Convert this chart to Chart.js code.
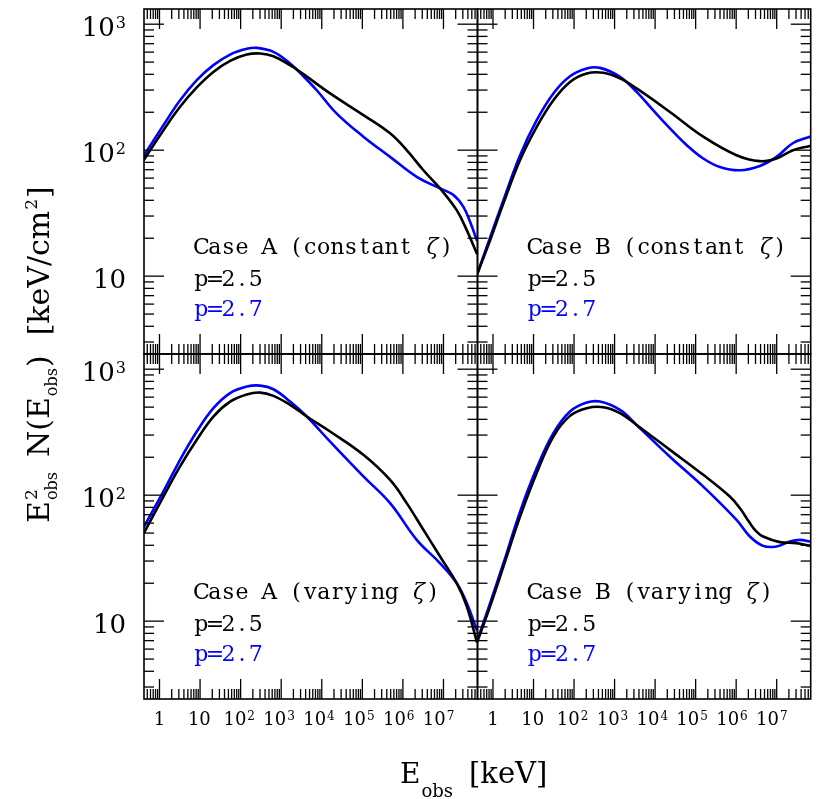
<!DOCTYPE html>
<html>
<head>
<meta charset="utf-8">
<script src="https://cdn.jsdelivr.net/npm/chart.js@4.4.1/dist/chart.umd.min.js"></script>
<style>
  body { margin: 0; background: #fff; }
  #wrap { position: relative; width: 817px; height: 799px; }
  #wrap canvas { position: absolute; left: 0; top: 0; }
</style>
</head>
<body>
<div id="wrap">
  <canvas id="tl" width="817" height="799"></canvas>
  <canvas id="tr" width="817" height="799"></canvas>
  <canvas id="bl" width="817" height="799"></canvas>
  <canvas id="br" width="817" height="799"></canvas>
  <canvas id="titles" width="817" height="799"></canvas>
</div>
<script>
// axis ranges (keV, keV/cm^2)
const X_MIN = 0.415, X_MAX = 6.9e7;
const Y_MIN = 2.41, Y_MAX = 1320;
const X_EXPONENTS = [0, 1, 2, 3, 4, 5, 6, 7];
const Y_EXPONENTS = [1, 2, 3];

// Case A, constant zeta
const eAconst25 = [0.417, 1.25, 3.22, 8.3, 21.3, 55, 142, 302, 643, 1656, 3530, 16030, 1.06e5, 4.83e5, 1.24e6, 3.2e6, 8.25e6, 2.12e7, 3.75e7, 6.6e7];
const fAconst25 = [84.3, 144, 221, 315, 418, 512, 574, 585, 557, 473, 401, 282, 190, 136, 100, 69.3, 49.7, 33.4, 23.2, 15.2];
const eAconst27 = [0.417, 1.25, 3.22, 8.3, 21.3, 55, 142, 250, 643, 1656, 3530, 7520, 23400, 1.06e5, 4.83e5, 2.19e6, 8.25e6, 1.76e7, 3.1e7, 4.53e7, 6.6e7];
const fAconst27 = [91.2, 158, 249, 360, 473, 574, 637, 649, 603, 488, 386, 299, 195, 128, 88.5, 61.4, 49.7, 44, 35.5, 27, 19.3];

// Case B, constant zeta
const eBconst25 = [0.413, 0.849, 1.81, 4.66, 12.0, 30.9, 79.5, 205, 527, 1358, 3500, 23200, 1.54e5, 1.02e6, 3.84e6, 9.87e6, 2.54e7, 6.55e7];
const fBconst25 = [10.5, 19.3, 37.8, 83.4, 153, 249, 348, 406, 411, 371, 309, 201, 128, 91.2, 81.8, 85.9, 100, 108];
const eBconst27 = [0.413, 0.849, 1.81, 4.66, 12.0, 30.9, 79.5, 205, 436, 1358, 3500, 9000, 23200, 59700, 1.54e5, 3.96e5, 1.23e6, 3.84e6, 9.87e6, 2.54e7, 6.55e7];
const fBconst27 = [10.5, 20.3, 40.1, 91.2, 173, 282, 386, 445, 450, 382, 290, 207, 149, 110, 85.9, 73.6, 69.3, 75, 88.5, 114, 128];

// Case A, varying zeta
const eAvary25 = [0.417, 1.25, 3.22, 8.3, 21.3, 55, 142, 302, 643, 1656, 4270, 16030, 1.06e5, 4.83e5, 1.24e6, 3.2e6, 8.25e6, 2.12e7, 3.75e7, 6.6e7];
const fAvary25 = [50.5, 97.5, 169, 275, 421, 553, 631, 652, 614, 521, 421, 320, 209, 132, 86.5, 53.1, 32.6, 20, 13.1, 6.89];
const eAvary27 = [0.417, 1.25, 3.22, 8.3, 21.3, 55, 142, 302, 643, 1656, 4270, 16030, 1.06e5, 4.83e5, 2.19e6, 8.25e6, 2.12e7, 3.75e7, 6.6e7];
const fAvary27 = [56.4, 107, 191, 320, 490, 646, 728, 741, 693, 553, 421, 266, 141, 86.5, 44.2, 28.8, 20, 13.9, 8.53];

// Case B, varying zeta
const eBvary25 = [0.413, 0.849, 1.81, 4.66, 12.0, 30.9, 79.5, 205, 527, 1358, 3500, 23200, 1.54e5, 6.98e5, 1.23e6, 2.18e6, 3.18e6, 4.63e6, 1.19e7, 3.07e7, 6.55e7];
const fBvary25 = [6.89, 13.1, 27.1, 67.6, 150, 292, 426, 490, 499, 448, 361, 229, 145, 97.5, 79, 60, 51.4, 47, 42.4, 41.6, 39.6];
const eBvary27 = [0.413, 0.849, 1.81, 4.66, 12.0, 30.9, 79.5, 205, 436, 1358, 3500, 23200, 1.54e5, 1.02e6, 2.18e6, 4.63e6, 9.87e6, 2.1e7, 3.72e7, 6.55e7];
const fBvary27 = [7.08, 13.9, 28.8, 74.1, 164, 310, 461, 543, 553, 475, 361, 202, 117, 63.7, 47, 39.6, 39.1, 42.9, 44.2, 42.9];

const BLUE = '#0000ff';
const SERIF = '"DejaVu Serif", serif';

const panels = [
  { id: 'tl', box: [144, 9, 477.5, 354], caseLabel: 'Case A (constant ζ)', e25: eAconst25, f25: fAconst25, e27: eAconst27, f27: fAconst27, yLabels: true, xLabels: false },
  { id: 'tr', box: [477.5, 9, 810.7, 354], caseLabel: 'Case B (constant ζ)', e25: eBconst25, f25: fBconst25, e27: eBconst27, f27: fBconst27, yLabels: false, xLabels: false },
  { id: 'bl', box: [144, 354, 477.5, 699], caseLabel: 'Case A (varying ζ)', e25: eAvary25, f25: fAvary25, e27: eAvary27, f27: fAvary27, yLabels: true, xLabels: true },
  { id: 'br', box: [477.5, 354, 810.7, 699], caseLabel: 'Case B (varying ζ)', e25: eBvary25, f25: fBvary25, e27: eBvary27, f27: fBvary27, yLabels: false, xLabels: true },
];

function toPoints(xs, ys) {
  return xs.map((x, i) => ({ x, y: ys[i] }));
}

function line(ctx, x1, y1, x2, y2) {
  ctx.beginPath();
  ctx.moveTo(x1, y1);
  ctx.lineTo(x2, y2);
  ctx.stroke();
}

// "1", "10" or "10" with a raised exponent
function drawPower(ctx, exp, cx, baseline, size, supSize, supRise, align) {
  const main = exp === 0 ? '1' : '10';
  const sup = exp > 1 ? String(exp) : '';
  ctx.font = size + 'px ' + SERIF;
  const wMain = ctx.measureText(main).width;
  ctx.font = supSize + 'px ' + SERIF;
  const wSup = sup ? ctx.measureText(sup).width + 1 : 0;
  const total = wMain + wSup;
  const left = align === 'right' ? cx - total : cx - total / 2;
  ctx.textAlign = 'left';
  ctx.font = size + 'px ' + SERIF;
  ctx.fillText(main, left, baseline);
  if (sup) {
    ctx.font = supSize + 'px ' + SERIF;
    ctx.fillText(sup, left + wMain + 1, baseline - supRise);
  }
}

// fixed-pitch text drawn with a serif face
function drawMono(ctx, text, x0, baseline, pitch, color) {
  ctx.fillStyle = color;
  ctx.textAlign = 'center';
  [...text].forEach((ch, i) => {
    ctx.font = (ch === 'ζ' ? 'italic ' : '') + '22px ' + SERIF;
    ctx.fillText(ch, x0 + pitch * i + pitch / 2, baseline);
  });
}

const framePlugin = {
  id: 'frame',
  afterDatasetsDraw(chart, args, opts) {
    const { ctx, chartArea: a, scales: { x, y } } = chart;
    ctx.save();
    ctx.strokeStyle = '#000';
    ctx.fillStyle = '#000';
    ctx.lineWidth = 1.3;

    // log ticks on all four sides, pointing inward
    for (let d = -1; d <= 8; d++) {
      for (let m = 1; m <= 9; m++) {
        const v = m * Math.pow(10, d);
        const len = m === 1 ? 20 : 10;
        if (v >= X_MIN && v <= X_MAX) {
          const px = x.getPixelForValue(v);
          line(ctx, px, a.top, px, a.top + len);
          line(ctx, px, a.bottom, px, a.bottom - len);
        }
        if (v >= Y_MIN && v <= Y_MAX) {
          const py = y.getPixelForValue(v);
          line(ctx, a.left, py, a.left + len, py);
          line(ctx, a.right, py, a.right - len, py);
        }
      }
    }
    ctx.lineWidth = 1.6;
    ctx.strokeRect(a.left, a.top, a.right - a.left, a.bottom - a.top);

    if (opts.yLabels) {
      Y_EXPONENTS.forEach(k => {
        const py = y.getPixelForValue(Math.pow(10, k));
        drawPower(ctx, k, 126, py + 11.5, 26, 16, 7.5, 'right');
      });
    }
    if (opts.xLabels) {
      X_EXPONENTS.forEach(k => {
        const px = x.getPixelForValue(Math.pow(10, k)) - 0.7 * k;
        drawPower(ctx, k, px, a.bottom + 26, 18, 12, 5, 'center');
      });
    }

    const x0 = a.left + 50.5;
    const b0 = a.top + 245;
    drawMono(ctx, opts.caseLabel, x0, b0, 13.6, '#000');
    drawMono(ctx, 'p=2.5', x0, b0 + 32, 13.6, '#000');
    drawMono(ctx, 'p=2.7', x0, b0 + 62, 13.6, BLUE);
    ctx.restore();
  }
};

panels.forEach(p => {
  const [l, t, r, b] = p.box;
  new Chart(document.getElementById(p.id), {
    type: 'line',
    data: {
      datasets: [
        { label: 'p=2.5', data: toPoints(p.e25, p.f25), borderColor: '#000', borderWidth: 2.6 },
        { label: 'p=2.7', data: toPoints(p.e27, p.f27), borderColor: BLUE, borderWidth: 2.6 },
      ],
    },
    options: {
      responsive: false,
      animation: false,
      events: [],
      layout: { padding: { left: l, top: t, right: 817 - r, bottom: 799 - b } },
      elements: {
        point: { radius: 0 },
        line: { tension: 0.4, borderJoinStyle: 'round', borderCapStyle: 'round' },
      },
      plugins: {
        legend: { display: false },
        tooltip: { enabled: false },
        frame: { caseLabel: p.caseLabel, yLabels: p.yLabels, xLabels: p.xLabels },
      },
      scales: {
        x: { type: 'logarithmic', min: X_MIN, max: X_MAX, display: false },
        y: { type: 'logarithmic', min: Y_MIN, max: Y_MAX, display: false },
      },
    },
    plugins: [framePlugin],
  });
});

// axis titles
(function () {
  const ctx = document.getElementById('titles').getContext('2d');
  ctx.fillStyle = '#000';
  ctx.textAlign = 'left';
  const run = (text, size, x, y) => {
    ctx.font = size + 'px ' + SERIF;
    ctx.fillText(text, x, y);
    return ctx.measureText(text).width;
  };

  // x title: E_obs [keV]
  let w = run('E', 28, 400, 783);
  run('obs', 18, 400 + w + 1, 797);
  run('[keV]', 29, 469, 783);

  // y title: E^2_obs N(E_obs) [keV/cm^2], reading upward
  ctx.save();
  ctx.translate(49, 523);
  ctx.rotate(-Math.PI / 2);
  let u = 0;
  u += run('E', 30, u, 0);
  run('2', 17, u + 1, -12);
  u += run('obs', 16, u + 1, 8) + 16;
  u += run('N(E', 30, u, 0);
  u += run('obs', 16, u + 1, 8) + 2;
  u += run(')', 30, u, 0) + 20;
  u += run('[keV/cm', 30, u, 0);
  u += run('2', 17, u + 1, -12) + 2;
  run(']', 30, u, 0);
  ctx.restore();
})();
</script>
</body>
</html>
